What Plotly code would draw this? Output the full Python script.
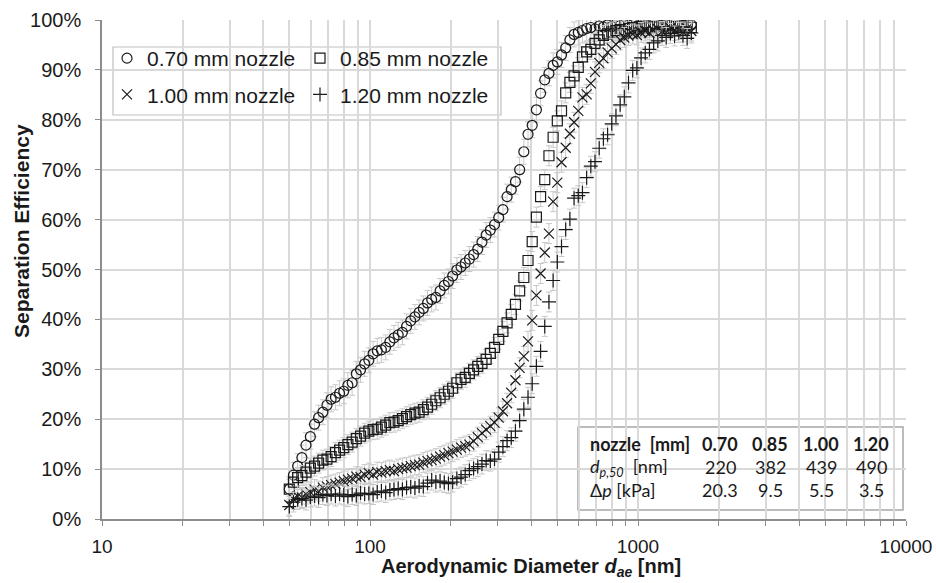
import plotly.graph_objects as go

# Aerodynamic diameter channels [nm]
diameter = [50.0, 51.8, 53.7, 55.7, 57.7, 59.9, 62.1, 64.3, 66.7, 69.1, 71.6, 74.3, 77.0, 79.8, 82.7, 85.8,
            88.9, 92.2, 95.5, 99.0, 102.7, 106.4, 110.3, 114.4, 118.6, 122.9, 127.4, 132.1, 136.9, 141.9, 147.1, 152.5,
            158.1, 163.9, 169.9, 176.1, 182.6, 189.3, 196.2, 203.4, 210.9, 218.6, 226.6, 234.9, 243.5, 252.4, 261.7, 271.3,
            281.2, 291.5, 302.2, 313.3, 324.7, 336.6, 348.9, 361.7, 375.0, 388.7, 402.9, 417.7, 433.0, 448.8, 465.3, 482.3,
            500.0, 518.3, 537.3, 557.0, 577.4, 598.5, 620.5, 643.2, 666.8, 691.2, 716.6, 742.8, 770.0, 798.2, 827.5, 857.8,
            889.1, 921.7, 955.5, 990.5, 1026.8, 1064.4, 1103.4, 1143.8, 1185.7, 1229.2, 1274.2, 1320.9, 1369.3, 1419.4, 1471.4, 1525.3,
            1581.1]

# Separation efficiency [%]
eff_070 = [6.0, 8.8, 10.6, 12.3, 14.8, 16.5, 19.0, 20.3, 21.4, 22.8, 24.0, 24.4, 25.2, 25.6, 26.8, 27.3,
           29.1, 29.9, 31.1, 31.8, 33.1, 33.7, 33.9, 34.4, 35.5, 36.3, 36.9, 37.4, 38.6, 39.7, 40.5, 41.4,
           42.2, 43.3, 44.0, 44.4, 45.7, 46.8, 47.6, 48.7, 49.9, 50.5, 51.3, 52.1, 53.0, 54.1, 55.5, 56.9,
           57.9, 59.0, 60.4, 62.0, 64.6, 66.0, 67.6, 70.0, 73.6, 77.1, 78.9, 82.0, 85.3, 88.0, 89.3, 90.9,
           91.6, 93.0, 94.4, 96.0, 97.1, 97.5, 97.9, 98.3, 98.5, 98.2, 98.8, 98.6, 99.0, 98.7, 99.1, 98.9,
           99.2, 99.0, 99.3, 98.8, 99.1, 99.4, 99.0, 99.3, 99.5, 99.1, 99.6, 99.2, 99.4, 99.7, 98.9, 99.3,
           99.0]
eff_085 = [6.0, 7.4, 8.3, 8.7, 9.4, 10.2, 10.6, 11.2, 11.8, 12.0, 12.5, 13.3, 13.8, 14.3, 14.9, 15.4,
           16.1, 16.6, 17.2, 17.6, 17.9, 18.0, 18.4, 18.8, 19.3, 19.4, 19.7, 20.1, 20.5, 20.9, 21.2, 21.4,
           21.9, 22.4, 23.0, 23.7, 24.3, 25.0, 25.6, 26.2, 27.3, 28.0, 28.4, 29.2, 29.9, 30.6, 31.2, 32.0,
           33.2, 34.4, 36.0, 37.6, 39.3, 41.0, 43.0, 45.7, 48.4, 51.8, 55.6, 60.5, 64.6, 68.0, 72.8, 76.5,
           79.8, 81.8, 85.4, 87.5, 88.8, 90.5, 92.6, 93.6, 94.1, 95.3, 96.0, 96.9, 97.2, 97.6, 97.9, 98.1,
           97.8, 98.3, 98.5, 98.2, 98.7, 98.4, 98.8, 98.6, 99.0, 98.7, 98.9, 99.1, 98.8, 99.0, 98.6, 98.9,
           98.5]
eff_100 = [2.8, 4.0, 4.6, 4.3, 5.0, 5.4, 5.9, 5.6, 6.3, 6.5, 6.8, 7.0, 7.3, 7.6, 7.9, 8.1,
           8.5, 8.4, 8.9, 9.2, 8.9, 9.4, 9.3, 9.6, 9.8, 9.6, 10.0, 10.2, 10.3, 10.6, 10.8, 10.9,
           11.3, 11.6, 11.8, 12.1, 12.5, 12.8, 13.2, 13.5, 13.9, 14.3, 14.6, 14.9, 15.6, 16.4, 17.2, 17.9,
           18.6, 19.3, 20.3, 21.6, 23.2, 25.3, 27.8, 30.3, 32.6, 35.6, 39.8, 44.8, 49.2, 53.4, 57.2, 63.6,
           67.4, 71.5, 74.4, 77.2, 79.5, 81.8, 84.5, 85.1, 87.3, 89.6, 91.4, 92.3, 93.5, 94.3, 95.1, 96.0,
           96.5, 96.9, 97.2, 97.0, 97.5, 97.8, 97.4, 97.9, 98.2, 97.7, 98.0, 98.4, 97.9, 98.1, 97.6, 98.3,
           97.8]
eff_120 = [2.5, 3.4, 3.9, 4.1, 3.8, 4.4, 4.6, 4.3, 4.9, 4.7, 5.0, 4.6, 5.0, 4.8, 4.5, 4.9,
           4.7, 5.2, 5.0, 5.1, 4.9, 5.4, 5.6, 5.3, 5.8, 5.9, 6.1, 5.9, 6.3, 6.4, 6.2, 6.6,
           6.5, 7.2, 7.8, 7.4, 7.6, 7.3, 7.1, 7.4, 8.1, 8.4, 8.9, 9.7, 10.1, 10.5, 11.0, 11.7,
           11.6, 12.0, 13.4, 14.5, 15.7, 16.3, 17.6, 19.7, 22.0, 24.4, 27.1, 30.6, 33.6, 38.6, 43.5, 47.8,
           51.5, 54.6, 58.0, 60.1, 64.3, 64.8, 65.4, 68.4, 70.7, 71.6, 74.3, 76.2, 77.0, 79.2, 80.8, 83.0,
           84.6, 87.4, 89.9, 90.4, 92.4, 93.4, 94.1, 95.4, 95.8, 96.9, 96.5, 97.3, 96.8, 97.5, 96.9, 96.3,
           97.4]

series_names = ["0.70 mm nozzle", "0.85 mm nozzle", "1.00 mm nozzle", "1.20 mm nozzle"]
series_values = [eff_070, eff_085, eff_100, eff_120]
series_errors = [2.5, 2.0, 2.0, 2.0]
series_symbols = ["circle-open", "square-open", "x-thin-open", "cross-thin-open"]
series_legend = ["legend", "legend2", "legend", "legend2"]

# Inset table
table_head = ["nozzle  [mm]", "0.70", "0.85", "1.00", "1.20"]
table_dp50 = ["220", "382", "439", "490"]
table_dp = ["20.3", "9.5", "5.5", "3.5"]

# plot area in pixels
PL, PR, PT, PB = 102, 906, 20, 519
W, H = 936, 583


def px2paper(px, py):
    return (px - PL) / float(PR - PL), (PB - py) / float(PB - PT)


fig = go.Figure()
for name, vals, err, sym, lg in zip(series_names, series_values, series_errors, series_symbols, series_legend):
    fig.add_trace(go.Scatter(
        x=diameter, y=vals, mode="markers", name=name, legend=lg, legendgroup=name,
        marker=dict(symbol=sym, size=10, color="#1a1a1a", line=dict(width=1.2, color="#1a1a1a")),
        error_y=dict(type="constant", value=err, color="#c8c8c8", thickness=1, width=3),
    ))

grid_col = "#d9d9d9"
axis_col = "#8c8c8c"
txt_col = "#1a1a1a"
minor_vals = [m * 10 ** k for k in (1, 2, 3) for m in range(2, 10)]

lg1x, lgy = px2paper(107, 38)
lg2x, _ = px2paper(300, 38)
legend_common = dict(yanchor="top", xanchor="left", orientation="v",
                     bgcolor="rgba(0,0,0,0)", borderwidth=0,
                     font=dict(size=21, color=txt_col), itemwidth=30, tracegroupgap=6)

fig.update_layout(
    width=W, height=H,
    margin=dict(l=PL, r=W - PR, t=PT, b=H - PB, autoexpand=False),
    paper_bgcolor="white", plot_bgcolor="white",
    font=dict(family="Liberation Sans, Arial, sans-serif", color=txt_col, size=20),
    showlegend=True,
    legend=dict(x=lg1x, y=lgy, **legend_common),
    legend2=dict(x=lg2x, y=lgy, **legend_common),
    xaxis=dict(
        type="log", range=[1, 4], automargin=False,
        tickmode="array", tickvals=[10, 100, 1000, 10000], ticktext=["10", "100", "1000", "10000"],
        showgrid=True, gridcolor=grid_col, gridwidth=1.5,
        ticks="outside", ticklen=5, tickcolor=axis_col, ticklabelstandoff=4,
        minor=dict(tickmode="array", tickvals=minor_vals, showgrid=True, gridcolor=grid_col,
                   gridwidth=1.5, ticks="outside", ticklen=5, tickcolor=axis_col),
        showline=True, linecolor=axis_col, linewidth=1.5, zeroline=False,
        tickfont=dict(size=19),
    ),
    yaxis=dict(
        range=[0, 100], dtick=10, ticksuffix="%", automargin=False,
        showgrid=True, gridcolor=grid_col, gridwidth=1.5,
        ticks="outside", ticklen=5, tickcolor=axis_col, ticklabelstandoff=10,
        showline=True, linecolor=axis_col, linewidth=1.5, zeroline=False,
        tickfont=dict(size=20),
    ),
)

# axis titles
tx, ty_ = px2paper(531, 567)
fig.add_annotation(xref="paper", yref="paper", x=tx, y=ty_, xanchor="center", yanchor="middle",
                   text="<b>Aerodynamic Diameter <i>d</i><sub><i>ae</i></sub> [nm]</b>", showarrow=False,
                   font=dict(size=20, color=txt_col))
yx, yy = px2paper(21, 231)
fig.add_annotation(xref="paper", yref="paper", x=yx, y=yy, xanchor="center", yanchor="middle",
                   text="<b>Separation Efficiency</b>", textangle=-90, showarrow=False,
                   font=dict(size=21, color=txt_col))

# legend frame
bx0, by0 = px2paper(113, 115)
bx1, by1 = px2paper(501, 47)
fig.add_shape(type="rect", xref="paper", yref="paper", x0=bx0, y0=by0, x1=bx1, y1=by1,
              line=dict(color="#bfbfbf", width=1.2), fillcolor="white", layer="between")

# inset table box
x0, y0 = px2paper(578, 510)
x1, y1 = px2paper(903, 427)
fig.add_shape(type="rect", xref="paper", yref="paper", x0=x0, y0=y0, x1=x1, y1=y1,
              line=dict(color="#a6a6a6", width=1.5), fillcolor="white", layer="between")

tfont = "Lato, Open Sans, sans-serif"
col_px = [720, 770, 821, 871]
row_py = [444, 467, 490]
lx, _ = px2paper(588, 0)
_, ry = px2paper(0, row_py[0])
_, ry2 = px2paper(0, row_py[1])
_, ry3 = px2paper(0, row_py[2])
row_labels = [(ry, "<b>" + table_head[0] + "</b>"),
              (ry2, "<i>d</i><sub><i>p,50</i></sub>  [nm]"),
              (ry3, "Δ<i>p</i> [kPa]")]
for ty, txt in row_labels:
    fig.add_annotation(xref="paper", yref="paper", x=lx, y=ty, xanchor="left", yanchor="middle",
                       text=txt, showarrow=False, font=dict(family=tfont, size=18, color=txt_col))
for j, cx in enumerate(col_px):
    px_, _ = px2paper(cx, 0)
    for ty, txt in ((ry, "<b>" + table_head[j + 1] + "</b>"), (ry2, table_dp50[j]), (ry3, table_dp[j])):
        fig.add_annotation(xref="paper", yref="paper", x=px_, y=ty, xanchor="center", yanchor="middle",
                           text=txt, showarrow=False,
                           font=dict(family=tfont, size=18, color=txt_col))

fig.write_html("out.html")
